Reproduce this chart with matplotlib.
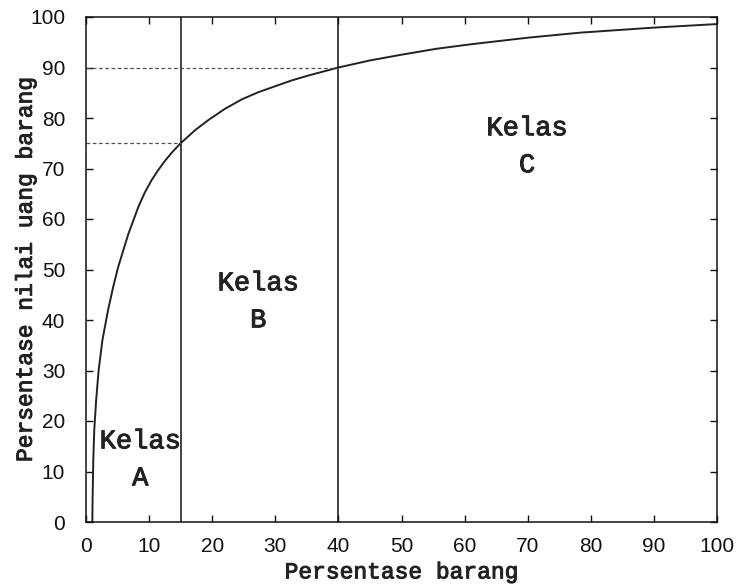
import numpy as np
import matplotlib
matplotlib.use("Agg")
import matplotlib.pyplot as plt
import matplotlib.patheffects as pe

# data (ABC curve)
pct_items = [1.0, 1.05, 1.15, 1.3, 1.6, 2.0, 2.6, 3.5, 4.3, 5.1, 6.7, 8.3,
             9.3, 10.4, 11.4, 12.5, 13.7, 15.0, 17.3, 19.4, 22.0, 24.7,
             27.3, 30.0, 32.5, 35.2, 40.0, 45.0, 50.3, 55.5, 61.0, 70.0,
             78.3, 90.0, 100.0]
pct_value = [0, 5, 12, 18, 24, 30, 36, 42, 46.5, 50.5, 57, 62.4,
             65.2, 67.7, 69.6, 71.5, 73.3, 75, 77.6, 79.6, 81.8, 83.7,
             85.1, 86.3, 87.4, 88.4, 90, 91.4, 92.6, 93.7, 94.6, 95.9,
             96.9, 97.9, 98.6]

borders_x = [15, 40]
borders_y = [75, 90]

class_names = ["Kelas\nA", "Kelas\nB", "Kelas\nC"]
class_x = [8.6, 27.3, 69.9]
class_y = [12.3, 43.6, 74.3]

ticks = np.arange(0, 101, 10)

mono = "Liberation Mono"
sans = "Liberation Sans"
thick = [pe.withStroke(linewidth=0.7, foreground="#222222")]

fig = plt.figure(figsize=(7.39, 5.87), dpi=100)
ax = fig.add_axes([86/739, 65/587, 631/739, 505/587])

ax.plot(pct_items, pct_value, color="#222222", lw=1.4)

for bx in borders_x:
  ax.axvline(bx, color="#111111", lw=1.1)

for bx, by in zip(borders_x, borders_y):
  ax.plot([0, bx], [by, by], color="#555555", lw=0.9, ls=(0, (3, 2)))

for name, tx, ty in zip(class_names, class_x, class_y):
  ax.text(tx, ty, name, ha="center", va="center", fontsize=19.5,
          family=mono, linespacing=1.55, color="#222222", path_effects=thick)

ax.set_xlim(0, 100)
ax.set_ylim(0, 100)
ax.set_xticks(ticks)
ax.set_yticks(ticks)

ax.tick_params(direction="in", length=5, width=1, top=True, right=True,
               labelsize=15, colors="#111111")
ax.tick_params(axis="y", pad=15)
ax.tick_params(axis="x", pad=11)
for lab in ax.get_xticklabels() + ax.get_yticklabels():
  lab.set_family(sans)

for sp in ax.spines.values():
  sp.set_linewidth(1.1)
  sp.set_color("#111111")

ax.set_xlabel("Persentase barang", family=mono, fontsize=16.5,
              color="#222222", path_effects=thick)
ax.set_ylabel("Persentase nilai uang barang", family=mono,
              fontsize=16.5, color="#222222", path_effects=thick)
ax.xaxis.set_label_coords(0.5, -0.076)
ax.yaxis.set_label_coords(-0.078, 0.5)

fig.savefig("out.png", dpi=100)
